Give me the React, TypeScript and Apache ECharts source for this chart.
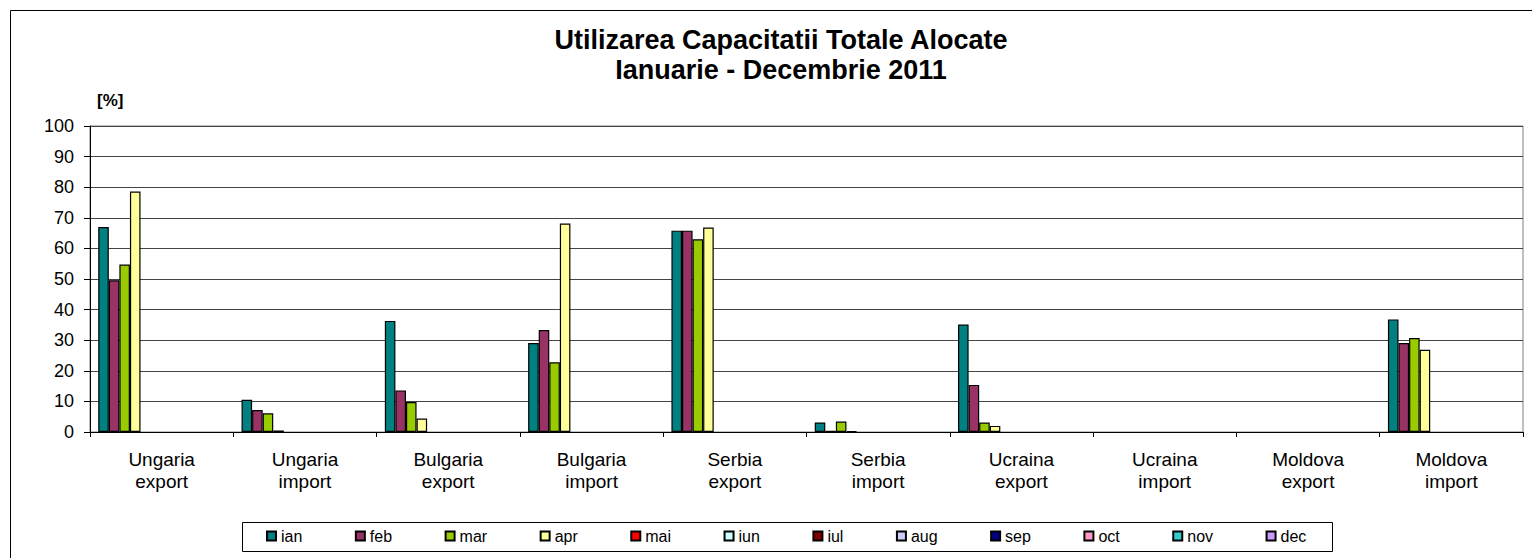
import React, { useEffect, useRef } from "react";
import * as echarts from "echarts";

const categories = [
  "Ungaria\nexport",
  "Ungaria\nimport",
  "Bulgaria\nexport",
  "Bulgaria\nimport",
  "Serbia\nexport",
  "Serbia\nimport",
  "Ucraina\nexport",
  "Ucraina\nimport",
  "Moldova\nexport",
  "Moldova\nimport",
];

const months = ["ian", "feb", "mar", "apr", "mai", "iun", "iul", "aug", "sep", "oct", "nov", "dec"];
const monthColors = [
  "#008080", "#993366", "#99CC00", "#FFFF99", "#FF0000", "#CCFFFF",
  "#800000", "#CCCCFF", "#000080", "#FF99CC", "#33CCCC", "#CC99FF",
];

const ian = [67.0, 10.5, 36.3, 29.1, 65.8, 3.1, 35.1, null, null, 36.8];
const feb = [49.6, 7.2, 13.6, 33.3, 65.8, 0.4, 15.4, null, null, 29.1];
const mar = [54.7, 6.1, 9.8, 22.8, 63.0, 3.4, 3.1, null, null, 30.7];
const apr = [78.6, 0.5, 4.4, 68.1, 66.8, 0.3, 2.0, null, null, 26.9];
const mai = [null, null, null, null, null, null, null, null, null, null];
const iun = [null, null, null, null, null, null, null, null, null, null];
const iul = [null, null, null, null, null, null, null, null, null, null];
const aug = [null, null, null, null, null, null, null, null, null, null];
const sep = [null, null, null, null, null, null, null, null, null, null];
const oct = [null, null, null, null, null, null, null, null, null, null];
const nov = [null, null, null, null, null, null, null, null, null, null];
const dec = [null, null, null, null, null, null, null, null, null, null];

const seriesData = [ian, feb, mar, apr, mai, iun, iul, aug, sep, oct, nov, dec];

const yTicks = { min: 0, max: 100, interval: 10 };

const FONT = "'Liberation Sans', Arial, sans-serif";

export default function App() {
  const ref = useRef<HTMLDivElement>(null);

  useEffect(() => {
    if (!ref.current) return;
    const chart = echarts.init(ref.current, null, { renderer: "svg" });
    chart.setOption({
      animation: false,
      backgroundColor: "#ffffff",
      textStyle: { fontFamily: FONT },
      graphic: [
        {
          type: "rect",
          shape: { x: 10.5, y: 10.5, width: 1600, height: 600 },
          style: { fill: "none", stroke: "#000", lineWidth: 1 },
          silent: true,
        },
        {
          type: "text",
          x: 781,
          y: 40,
          style: {
            text: "Utilizarea Capacitatii Totale Alocate",
            font: `bold 27px ${FONT}`,
            fill: "#000",
            textAlign: "center",
            textVerticalAlign: "middle",
          },
        },
        {
          type: "text",
          x: 781,
          y: 70,
          style: {
            text: "Ianuarie - Decembrie 2011",
            font: `bold 27px ${FONT}`,
            fill: "#000",
            textAlign: "center",
            textVerticalAlign: "middle",
          },
        },
        {
          type: "text",
          x: 97,
          y: 100,
          style: {
            text: "[%]",
            font: `bold 17px ${FONT}`,
            fill: "#000",
            textAlign: "left",
            textVerticalAlign: "middle",
          },
        },
        {
          type: "rect",
          shape: { x: 242.5, y: 522.5, width: 1090, height: 29 },
          style: { fill: "#fff", stroke: "#000", lineWidth: 1 },
          z: -1,
          silent: true,
        },
      ],
      legend: {
        data: months,
        left: 266,
        top: 528,
        padding: 0,
        itemWidth: 9,
        itemHeight: 9,
        itemGap: 52.5,
        icon: "rect",
        textStyle: { fontSize: 16, color: "#000", fontFamily: FONT },
        selectedMode: false,
      },
      grid: {
        left: 90,
        right: 9,
        top: 126,
        bottom: 126,
        show: true,
        borderColor: "#808080",
        borderWidth: 1,
        backgroundColor: "transparent",
      },
      xAxis: {
        type: "category",
        data: categories,
        axisLine: { show: true, lineStyle: { color: "#000", width: 1 } },
        axisTick: { show: true, length: 5, lineStyle: { color: "#000" }, alignWithLabel: false },
        axisLabel: {
          fontSize: 19,
          lineHeight: 22,
          color: "#000",
          margin: 16,
          fontFamily: FONT,
        },
        splitLine: { show: false },
      },
      yAxis: {
        type: "value",
        min: yTicks.min,
        max: yTicks.max,
        interval: yTicks.interval,
        axisLine: { show: true, lineStyle: { color: "#000", width: 1 } },
        axisTick: { show: true, length: 6, lineStyle: { color: "#000" } },
        axisLabel: { fontSize: 18, color: "#000", margin: 16, fontFamily: FONT },
        splitLine: { show: true, lineStyle: { color: "#444", width: 1 } },
      },
      series: months.map((m, i) => ({
        name: m,
        type: "bar",
        data: seriesData[i],
        barGap: "0%",
        barCategoryGap: "11.5%",
        itemStyle: {
          color: monthColors[i],
          borderColor: "#000",
          borderWidth: 1.2,
        },
        emphasis: { disabled: true },
      })),
    });
    return () => chart.dispose();
  }, []);

  return (
    <div
      ref={ref}
      style={{ position: "fixed", left: 0, top: 0, width: 1532, height: 558 }}
    />
  );
}
